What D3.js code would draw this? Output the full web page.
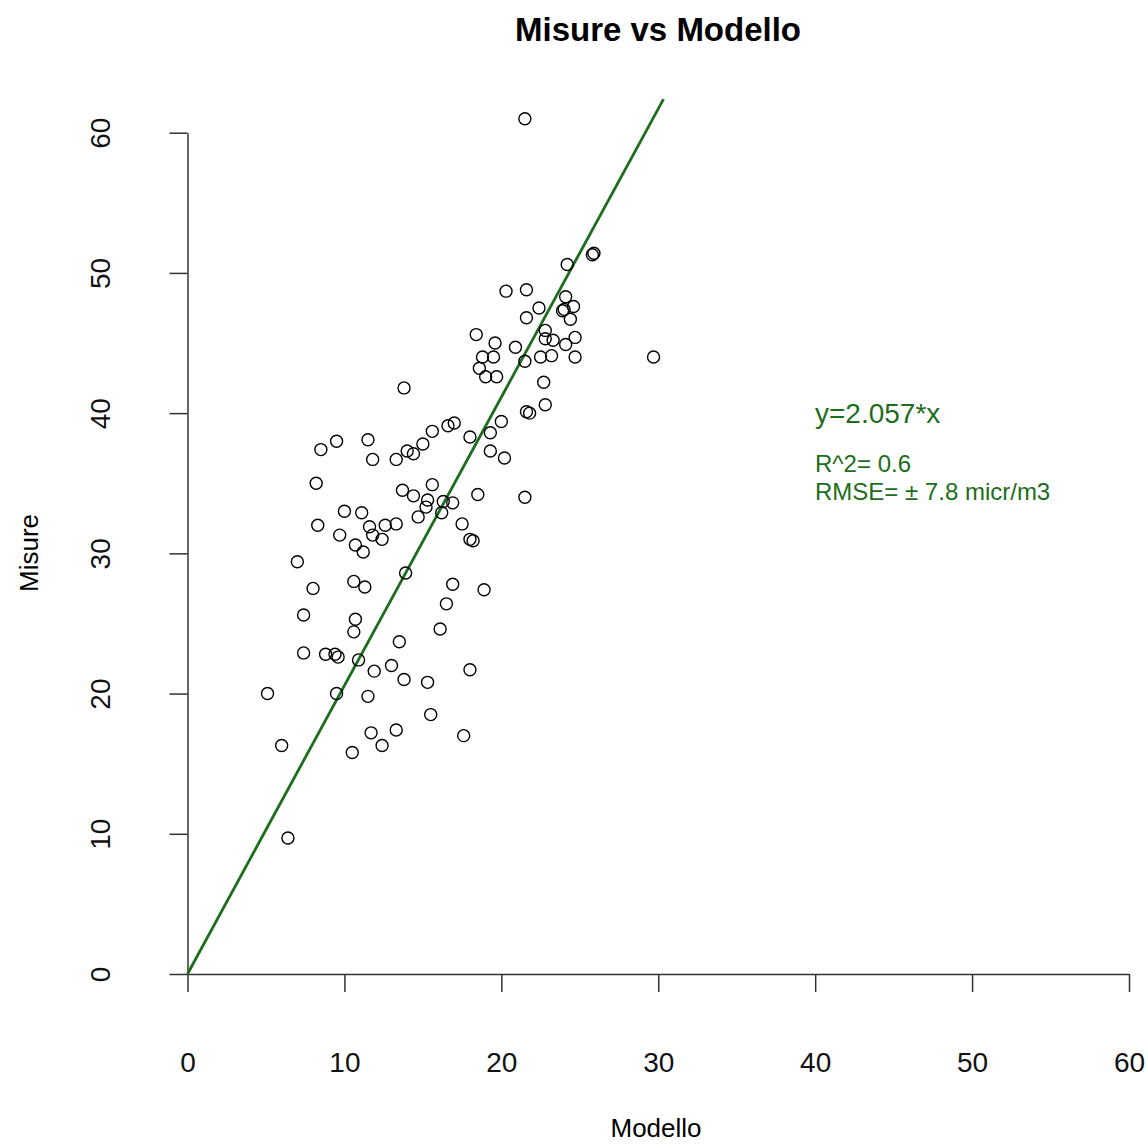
<!DOCTYPE html>
<html>
<head>
<meta charset="utf-8">
<title>Misure vs Modello</title>
<script src="https://d3js.org/d3.v7.min.js"></script>
<style>
  body { margin: 0; background: #fff; }
  svg { display: block; font-family: "Liberation Sans", Arial, sans-serif; }
</style>
</head>
<body>
<svg width="1148" height="1145"></svg>
<script>
const modello = [
  21.5, 25.9, 25.8, 24.2, 20.3, 21.6, 22.4, 24.1, 24.6, 24.0,
  23.9, 24.4, 21.6, 18.4, 22.8, 22.8, 23.3, 24.7, 24.1, 19.6,
  20.9, 18.8, 19.5, 22.5, 23.2, 24.7, 21.5, 18.6, 19.0, 19.7,
  22.7, 22.8, 21.6, 21.8, 29.7, 13.8, 14.0, 14.4, 15.0, 15.6,
  16.6, 17.0, 18.0, 19.3, 20.0, 19.3, 20.2, 21.5, 18.5, 17.5,
  18.0, 18.2, 16.9, 16.3, 16.2, 15.6, 15.3, 15.2, 14.7, 14.4,
  13.7, 13.3, 8.2, 8.5, 9.5, 11.5, 11.8, 10.0, 11.1, 8.3,
  9.7, 11.6, 12.6, 13.3, 11.8, 12.4, 10.7, 11.2, 7.0, 13.9,
  10.6, 11.3, 8.0, 16.9, 18.9, 16.5, 7.4, 10.7, 10.6, 16.1,
  13.5, 7.4, 8.8, 9.4, 9.6, 10.9, 13.0, 11.9, 13.8, 15.3,
  18.0, 5.1, 9.5, 11.5, 15.5, 11.7, 13.3, 12.4, 17.6, 6.0,
  10.5, 6.4
];
const misure = [
  61.0, 51.4, 51.3, 50.6, 48.7, 48.8, 47.5, 48.3, 47.6, 47.4,
  47.3, 46.7, 46.8, 45.6, 45.9, 45.3, 45.2, 45.4, 44.9, 45.0,
  44.7, 44.0, 44.0, 44.0, 44.1, 44.0, 43.7, 43.2, 42.6, 42.6,
  42.2, 40.6, 40.1, 40.0, 44.0, 41.8, 37.3, 37.1, 37.8, 38.7,
  39.1, 39.3, 38.3, 38.6, 39.4, 37.3, 36.8, 34.0, 34.2, 32.1,
  31.0, 30.9, 33.6, 33.7, 32.9, 34.9, 33.8, 33.3, 32.6, 34.1,
  34.5, 36.7, 35.0, 37.4, 38.0, 38.1, 36.7, 33.0, 32.9, 32.0,
  31.3, 31.9, 32.0, 32.1, 31.3, 31.0, 30.6, 30.1, 29.4, 28.6,
  28.0, 27.6, 27.5, 27.8, 27.4, 26.4, 25.6, 25.3, 24.4, 24.6,
  23.7, 22.9, 22.8, 22.8, 22.6, 22.4, 22.0, 21.6, 21.0, 20.8,
  21.7, 20.0, 20.0, 19.8, 18.5, 17.2, 17.4, 16.3, 17.0, 16.3,
  15.8, 9.7
];
const xTicks = [0, 10, 20, 30, 40, 50, 60];
const yTicks = [0, 10, 20, 30, 40, 50, 60];
const slope = 2.057;
const annotazioni = ["R^2= 0.6", "RMSE= \u00b1 7.8 micr/m3"];

const verde = "#1c6e1c";
const svg = d3.select("svg");

const x = d3.scaleLinear().domain([0, 60]).range([187.5, 1129]);
const y = d3.scaleLinear().domain([0, 60]).range([974, 132.7]);

// titolo
svg.append("text")
  .attr("x", 658).attr("y", 41)
  .attr("text-anchor", "middle")
  .attr("font-size", 33).attr("font-weight", "bold")
  .text("Misure vs Modello");

// asse x (a y=0)
const gx = svg.append("g")
  .attr("transform", `translate(0,${y(0)})`)
  .call(d3.axisBottom(x).tickValues(xTicks).tickSize(18).tickPadding(60).tickSizeOuter(0));
gx.select(".domain").attr("stroke", "#333").attr("stroke-width", 1.5);
gx.selectAll(".tick line").attr("stroke", "#333").attr("stroke-width", 1.5);
gx.selectAll(".tick text")
  .attr("font-size", 28).attr("fill", "#111")
  .attr("font-family", "Liberation Sans, Arial, sans-serif");

// asse y (a x=0), etichette ruotate
const gy = svg.append("g")
  .attr("transform", `translate(${x(0)},0)`)
  .call(d3.axisLeft(y).tickValues(yTicks).tickSize(18).tickSizeOuter(0));
gy.select(".domain").attr("stroke", "#333").attr("stroke-width", 1.5);
gy.selectAll(".tick line").attr("stroke", "#333").attr("stroke-width", 1.5);
gy.selectAll(".tick text")
  .attr("font-size", 28).attr("fill", "#111")
  .attr("font-family", "Liberation Sans, Arial, sans-serif")
  .attr("text-anchor", "middle")
  .attr("transform", "rotate(-90)")
  .attr("x", 0).attr("y", -78).attr("dy", 0);

// titoli assi
svg.append("text")
  .attr("x", 656).attr("y", 1137)
  .attr("text-anchor", "middle").attr("font-size", 26)
  .text("Modello");
svg.append("text")
  .attr("transform", "translate(38,553) rotate(-90)")
  .attr("text-anchor", "middle").attr("font-size", 26)
  .text("Misure");

// retta y = 2.057*x, tagliata al bordo superiore della regione del grafico
const yTop = 62.4;
const retta = [[0, 0], [yTop / slope, yTop]];
svg.append("path")
  .attr("d", d3.line().x(d => x(d[0])).y(d => y(d[1]))(retta))
  .attr("stroke", verde).attr("stroke-width", 2.8).attr("fill", "none");

// punti
svg.append("g").selectAll("circle")
  .data(modello.map((m, i) => [m, misure[i]]))
  .join("circle")
  .attr("cx", d => x(d[0])).attr("cy", d => y(d[1]))
  .attr("r", 6)
  .attr("fill", "none").attr("stroke", "#000").attr("stroke-width", 1.4);

// testo equazione
svg.append("text")
  .attr("x", 815).attr("y", 423)
  .attr("font-size", 28).attr("fill", verde)
  .text(`y=${slope}*x`);
svg.append("g").selectAll("text")
  .data(annotazioni)
  .join("text")
  .attr("x", 815).attr("y", (d, i) => 472 + i * 28)
  .attr("font-size", 24).attr("fill", verde)
  .text(d => d);
</script>
</body>
</html>
